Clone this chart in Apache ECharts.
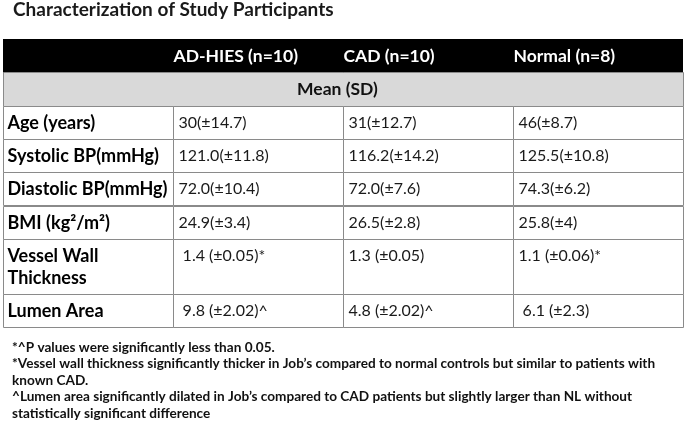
<!DOCTYPE html>
<html>
<head>
<meta charset="utf-8">
<script src="https://cdn.jsdelivr.net/npm/echarts@6/dist/echarts.min.js"></script>
<style>
  html, body { margin: 0; padding: 0; background: #ffffff; }
  #chart { width: 685px; height: 428px; }
</style>
</head>
<body>
<div id="chart"></div>
<script>
// ---------- data ----------
const titleText = 'Characterization of Study Participants';
const groupNames = ['AD-HIES (n=10)', 'CAD (n=10)', 'Normal (n=8)'];
const statLabel = 'Mean (SD)';
const measures = ['Age (years)', 'Systolic BP(mmHg)', 'Diastolic BP(mmHg)', 'BMI (kg\u00B2/m\u00B2)', 'Vessel Wall\nThickness', 'Lumen Area'];
const adHiesValues = ['30(\u00B114.7)', '121.0(\u00B111.8)', '72.0(\u00B110.4)', '24.9(\u00B13.4)', ' 1.4 (\u00B10.05)*', ' 9.8 (\u00B12.02)^'];
const cadValues = ['31(\u00B112.7)', '116.2(\u00B114.2)', '72.0(\u00B17.6)', '26.5(\u00B12.8)', '1.3 (\u00B10.05)', '4.8 (\u00B12.02)^'];
const normalValues = ['46(\u00B18.7)', '125.5(\u00B110.8)', '74.3(\u00B16.2)', '25.8(\u00B14)', '1.1 (\u00B10.06)*', ' 6.1 (\u00B12.3)'];
const footnotes = [
  '*^P values were significantly less than 0.05.',
  '*Vessel wall thickness significantly thicker in Job\u2019s compared to normal controls but similar to patients with\nknown CAD.',
  '^Lumen area significantly dilated in Job\u2019s compared to CAD patients but slightly larger than NL without\nstatistically significant difference'
];

// ---------- layout ----------
const FONT = 'Lato, "Open Sans", sans-serif';
const LINE_H = 22;           // px per extra text line
const BASE_H = 33;           // px per single-line row
const LINE_COLOR = '#8a8a8a';

const groupValues = [adHiesValues, cadValues, normalValues];
const cells = [];
let cursor = 0;
// header row (black band spanning all columns)
cells.push({ kind: 'headBand', col: 0, span: 4, y0: cursor, y1: cursor + BASE_H });
groupNames.forEach((g, i) => cells.push({ kind: 'head', col: i + 1, span: 1, y0: cursor, y1: cursor + BASE_H, text: g, lines: 1 }));
cursor += BASE_H;
// stat row (merged)
cells.push({ kind: 'stat', col: 0, span: 4, y0: cursor, y1: cursor + BASE_H + 1, text: statLabel, lines: 1 });
cursor += BASE_H + 1;
// measure rows
measures.forEach((m, r) => {
  const lines = m.split('\n').length;
  const h = BASE_H + (lines - 1) * LINE_H;
  cells.push({ kind: 'label', col: 0, span: 1, y0: cursor, y1: cursor + h, text: m, lines: lines });
  groupValues.forEach((vals, i) => {
    cells.push({ kind: 'value', col: i + 1, span: 1, y0: cursor, y1: cursor + h, text: vals[r], lines: lines });
  });
  cursor += h;
});
const totalH = cursor;

const chart = echarts.init(document.getElementById('chart'), null, { renderer: 'canvas' });

function renderItem(params, api) {
  const c = cells[params.dataIndex];
  const colW = api.size([1, 0])[0];
  const p0 = api.coord([api.value(0), api.value(1)]);
  const p1 = api.coord([api.value(0), api.value(2)]);
  const x = Math.round(p0[0] - colW / 2) + 0.5;
  const y = Math.round(p0[1]) + 0.5;
  const w = Math.round(colW * api.value(3));
  const h = Math.round(p1[1] - p0[1]);
  const children = [];
  if (c.kind === 'headBand') {
    children.push({ type: 'rect', shape: { x: x - 0.5, y: y - 0.5, width: w, height: h + 1 }, style: { fill: '#000000' } });
  } else if (c.kind === 'head') {
    children.push({ type: 'text', style: { text: c.text, x: x, y: y + h / 2, verticalAlign: 'middle', align: 'left', fill: '#ffffff', font: 'bold 17.5px ' + FONT } });
  } else if (c.kind === 'stat') {
    children.push({ type: 'rect', shape: { x: x, y: y, width: w, height: h }, style: { fill: '#d9d9d9', stroke: LINE_COLOR, lineWidth: 1 } });
    children.push({ type: 'text', style: { text: c.text, x: x + w / 2 - 6, y: y + h / 2, verticalAlign: 'middle', align: 'center', fill: '#111111', font: 'bold 17.5px ' + FONT } });
  } else {
    children.push({ type: 'rect', shape: { x: x, y: y, width: w, height: h }, style: { fill: '#ffffff', stroke: LINE_COLOR, lineWidth: 1 } });
    const firstLineY = y + h / 2 - (c.lines - 1) * LINE_H / 2;
    if (c.kind === 'label') {
      children.push({ type: 'text', style: { text: c.text, x: x + 4, y: y + h / 2, verticalAlign: 'middle', align: 'left', fill: '#000000', font: 'bold 18px ' + FONT, lineHeight: LINE_H } });
    } else {
      children.push({ type: 'text', style: { text: c.text, x: x + 5, y: firstLineY, verticalAlign: 'middle', align: 'left', fill: '#1a1a1a', font: '16px ' + FONT } });
    }
  }
  return { type: 'group', children: children };
}

chart.setOption({
  animation: false,
  backgroundColor: '#ffffff',
  title: [
    { text: titleText, left: 13, top: 0, padding: 0, textStyle: { fontFamily: FONT, fontWeight: 'bold', fontSize: 19, color: '#1a1a1a' } },
    { text: footnotes.join('\n'), left: 12, top: 339, padding: 0, textStyle: { fontFamily: FONT, fontWeight: 'bold', fontSize: 13.6, lineHeight: 16.6, color: '#111111' } }
  ],
  grid: { left: 3, right: 2, top: 39, bottom: 101, containLabel: false },
  xAxis: { type: 'category', data: ['label'].concat(groupNames), show: false },
  yAxis: { type: 'value', min: 0, max: totalH, inverse: true, show: false },
  series: [{
    type: 'custom',
    coordinateSystem: 'cartesian2d',
    clip: false,
    silent: true,
    data: cells.map(c => [c.col, c.y0, c.y1, c.span]),
    renderItem: renderItem
  }]
});
</script>
</body>
</html>
